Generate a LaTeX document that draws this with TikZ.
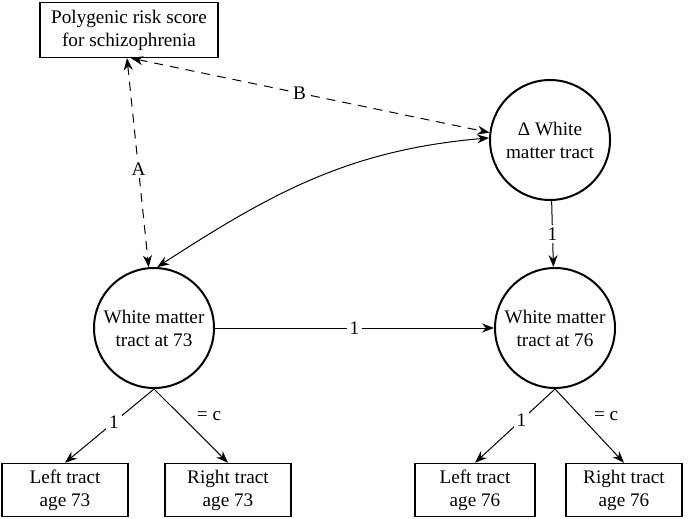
\documentclass[tikz,border=0pt]{standalone}
\usepackage{fontspec}
\setmainfont{Liberation Serif}
\newfontfamily\tnr{Liberation Serif}
\usetikzlibrary{arrows.meta}
\usetikzlibrary{positioning}

\begin{document}
\begin{tikzpicture}[x=0.5pt, y=0.5pt]
\tikzset{
  base/.style={draw, align=center, font=\tnr\fontsize{9.6}{11.5}\selectfont},
  box/.style={base, rectangle, line width=0.7pt, minimum height=26.5pt, inner sep=1pt},
  lv/.style={base, circle, line width=1pt, minimum size=60pt, inner sep=0pt},
  lab/.style={fill=white, inner sep=1.5pt, font=\tnr\fontsize{9.6}{11.5}\selectfont},
  cov/.style={<->, line width=0.5pt, dash pattern=on 4.5pt off 3.5pt},
  >={Stealth[length=6pt, width=4.5pt]},
}
\useasboundingbox (0,0) rectangle (688,-518);

% observed score and latent variables
\node[box, minimum width=89pt, minimum height=27.5pt] (prs) at (129,-30) {Polygenic risk score\\for schizophrenia};
\node[lv] (dwm) at (550,-140) {Δ White\\matter tract};
\node[lv] (wm73) at (154,-328) {White matter\\tract at 73};
\node[lv] (wm76) at (555,-328) {White matter\\tract at 76};

% indicators
\node[box, minimum width=63pt] (l73) at (65,-490) {Left tract\\age 73};
\node[box, minimum width=63pt] (r73) at (228,-490) {Right tract\\age 73};
\node[box, minimum width=60pt] (l76) at (475,-490) {Left tract\\age 76};
\node[box, minimum width=58pt] (r76) at (624,-490) {Right tract\\age 76};

\draw[cov] ([xshift=-1pt]prs.south) -- node[lab, pos=0.53] {A} (wm73.95);
\draw[cov] ([xshift=1pt]prs.south) -- node[lab, pos=0.47] {B} (dwm.173);
\draw[<->, line width=0.5pt] (wm73.87) to [out=33, in=185] (dwm.178);

\draw[->, line width=0.5pt] (dwm) -- node[lab] {1} (wm76);
\draw[->, line width=0.5pt] (wm73) -- node[lab] {1} (wm76);

\draw[->, line width=0.5pt] (wm73.south) -- node[lab, pos=0.45] {1} (l73.north);
\draw[->, line width=0.5pt] (wm73.south) -- node[lab, right=6pt, pos=0.37, fill=none] {= c} (r73.north);
\draw[->, line width=0.5pt] (wm76.south) -- node[lab, pos=0.42] {1} (l76.north);
\draw[->, line width=0.5pt] (wm76.south) -- node[lab, right=5pt, pos=0.37, fill=none] {= c} (r76.north);
\end{tikzpicture}
\end{document}
